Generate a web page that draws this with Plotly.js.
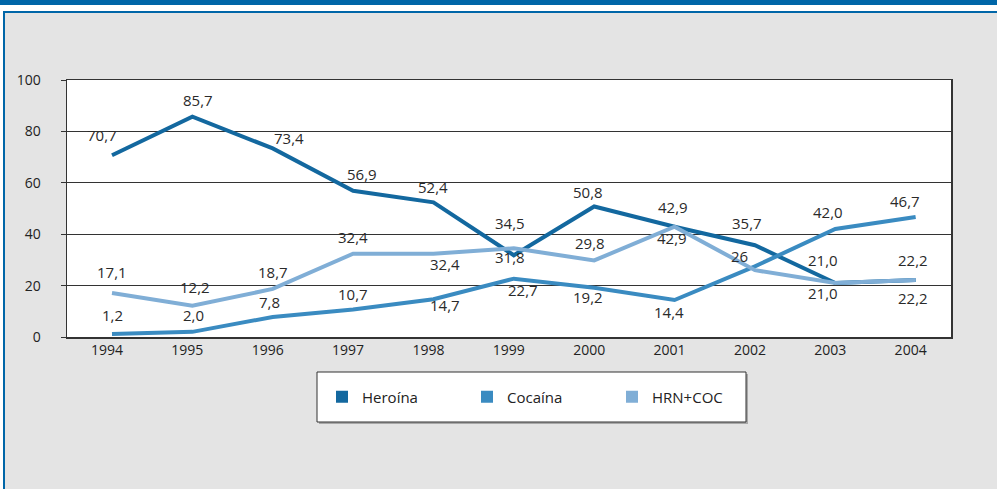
<!DOCTYPE html>
<html>
<head>
<meta charset="utf-8">
<script src="https://cdn.plot.ly/plotly-3.0.1.min.js"></script>
<style>
  html, body { margin: 0; padding: 0; background: #ffffff; }
  #chart { width: 997px; height: 489px; }
</style>
</head>
<body>
<div id="chart"></div>
<script>
// Years on the horizontal axis
const years = ['1994', '1995', '1996', '1997', '1998', '1999', '2000', '2001', '2002', '2003', '2004'];

// Percentages per substance
const heroina = [70.7, 85.7, 73.4, 56.9, 52.4, 31.8, 50.8, 42.9, 35.7, 21.0, 22.2];
const cocaina = [1.2, 2.0, 7.8, 10.7, 14.7, 22.7, 19.2, 14.4, 27.5, 42.0, 46.7];
const hrnCoc  = [17.1, 12.2, 18.7, 32.4, 32.4, 34.5, 29.8, 42.9, 26, 21.0, 22.2];

const seriesNames = ['Heroína', 'Cocaína', 'HRN+COC'];
const yTicks = [0, 20, 40, 60, 80, 100];

// Value-label offsets in pixels from each point: [dx, dy] (dy > 0 = above), null = no label
const heroinaLabelOff = [[-10, 20], [6, 17], [16, 10], [9, 17], [0, 15], [-4, -2],
                         [-6, 14], [-3, -11], [-8, 22], [-12, 23], [-3, 20]];
const cocainaLabelOff = [[0, 19], [1, 17], [-3, 15], [0, 16], [12, -6], [9, -11],
                         [-6, -9], [-6, -12], null, [-7, 17], [-11, 16]];
const hrnCocLabelOff  = [[0, 21], [3, 19], [0, 17], [0, 17], [12, -10], [-4, 25],
                         [-4, 17], [-2, 20], [-15, 14], [-12, -10], [-3, -18]];
// Values printed without a decimal
const wholeNumberLabels = { 'HRN+COC': ['2002'] };

const colors = ['#13689f', '#3a8bc1', '#80aed6'];

// Plot-area geometry (pixels) used to place frame decorations in paper coordinates
const M = { l: 67, r: 46, t: 80, b: 152 };
const W = 997 - M.l - M.r;
const H = 489 - M.t - M.b;
const px = x => (x - M.l) / W;
const py = y => (489 - M.b - y) / H;

function fmt(v, series, year) {
  const whole = (wholeNumberLabels[series] || []).includes(year);
  return whole ? String(Math.round(v)) : v.toFixed(1).replace('.', ',');
}

const seriesValues = [heroina, cocaina, hrnCoc];
const seriesLabelOff = [heroinaLabelOff, cocainaLabelOff, hrnCocLabelOff];

const traces = [];
seriesValues.forEach((vals, i) => {
  traces.push({
    type: 'scatter', mode: 'lines',
    x: years, y: vals, name: seriesNames[i],
    line: { color: colors[i], width: 4 },
    showlegend: false, hoverinfo: 'x+y+name'
  });
});
// Square legend keys
seriesNames.forEach((n, i) => {
  traces.push({
    type: 'scatter', mode: 'markers',
    x: [null], y: [null], name: n,
    marker: { symbol: 'square', size: 12, color: colors[i] },
    showlegend: true, hoverinfo: 'skip'
  });
});

// Value labels (category axis: x is the category's serial number)
const annotations = [];
seriesValues.forEach((vals, i) => {
  vals.forEach((v, j) => {
    const off = seriesLabelOff[i][j];
    if (!off) return;
    annotations.push({
      x: j, y: v, xref: 'x', yref: 'y',
      text: fmt(v, seriesNames[i], years[j]),
      showarrow: false, xshift: off[0], yshift: off[1],
      yanchor: 'middle', xanchor: 'center',
      font: { family: 'Open Sans, sans-serif', size: 15, color: '#2a2a2a' }
    });
  });
});

const blue = '#0066a8';
const shapes = [
  // white strip across the top
  { type: 'rect', xref: 'paper', yref: 'paper', x0: px(0), x1: px(997), y0: py(0), y1: py(11),
    fillcolor: '#ffffff', line: { width: 0 }, layer: 'below' },
  // heavy blue band at the top edge
  { type: 'rect', xref: 'paper', yref: 'paper', x0: px(0), x1: px(997), y0: py(0), y1: py(5),
    fillcolor: blue, line: { width: 0 }, layer: 'below' },
  // white strip on the left
  { type: 'rect', xref: 'paper', yref: 'paper', x0: px(0), x1: px(3), y0: py(11), y1: py(489),
    fillcolor: '#ffffff', line: { width: 0 }, layer: 'below' },
  // thin blue frame, top and left
  { type: 'rect', xref: 'paper', yref: 'paper', x0: px(3), x1: px(997), y0: py(11), y1: py(13),
    fillcolor: blue, line: { width: 0 }, layer: 'below' },
  { type: 'rect', xref: 'paper', yref: 'paper', x0: px(3), x1: px(5), y0: py(11), y1: py(489),
    fillcolor: blue, line: { width: 0 }, layer: 'below' },
  // legend box with soft shadow
  { type: 'rect', xref: 'paper', yref: 'paper', x0: px(319), x1: px(748), y0: py(374), y1: py(424),
    fillcolor: '#a8a8a8', line: { width: 0 }, layer: 'below' },
  { type: 'rect', xref: 'paper', yref: 'paper', x0: px(317), x1: px(746), y0: py(372), y1: py(422),
    fillcolor: '#ffffff', line: { color: '#333333', width: 1 }, layer: 'below' }
];

const layout = {
  width: 997, height: 489,
  margin: { l: M.l, r: M.r, t: M.t, b: M.b, pad: 0 },
  paper_bgcolor: '#e4e4e4',
  plot_bgcolor: '#ffffff',
  font: { family: 'Open Sans, sans-serif', size: 14, color: '#222222' },
  showlegend: true,
  legend: {
    orientation: 'h',
    x: px(322), xanchor: 'left',
    y: py(397), yanchor: 'middle',
    bgcolor: 'rgba(0,0,0,0)', borderwidth: 0,
    entrywidth: 100, entrywidthmode: 'pixels',
    itemwidth: 30,
    font: { family: 'Open Sans, sans-serif', size: 15, color: '#222222' }
  },
  xaxis: {
    type: 'category',
    range: [-0.56, 10.44],
    showgrid: false, zeroline: false,
    showline: true, mirror: true, linecolor: '#333333', linewidth: 1.5,
    ticks: '', ticklabelshift: -5,
    tickfont: { size: 14, color: '#222222' },
    fixedrange: true
  },
  yaxis: {
    range: [0, 100],
    tickvals: yTicks, ticktext: yTicks.map(String),
    showgrid: true, gridcolor: '#333333', gridwidth: 1,
    zeroline: false,
    showline: true, mirror: true, linecolor: '#333333', linewidth: 1.5,
    ticks: 'outside', ticklen: 5, tickcolor: '#333333', tickwidth: 1,
    ticklabelstandoff: 17,
    tickfont: { size: 14, color: '#222222' },
    fixedrange: true
  },
  shapes: shapes,
  annotations: annotations
};

Plotly.newPlot('chart', traces, layout, { displayModeBar: false, staticPlot: true });
</script>
</body>
</html>
